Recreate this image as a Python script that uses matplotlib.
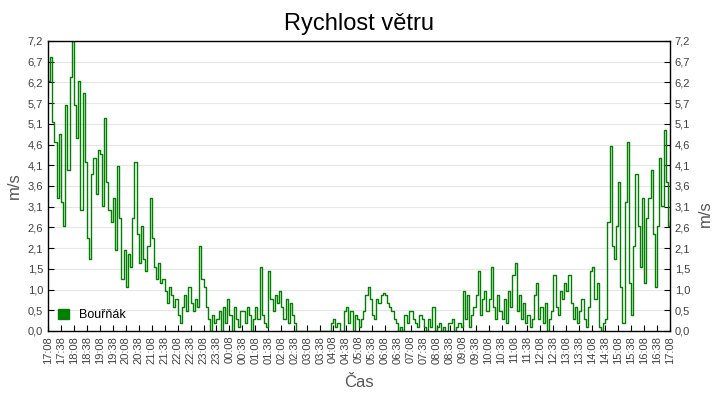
import matplotlib
matplotlib.use("Agg")
import matplotlib.pyplot as plt
import numpy as np

plt.rcParams['font.family'] = ['Liberation Sans', 'DejaVu Sans']

# rychlost větru v m/s, vzorek každých 5 minut od 17:08
vitr = [
    6.2, 6.8, 5.2, 4.7, 3.3, 4.9,
    3.2, 2.6, 5.6, 4.0, 6.3, 7.2,
    5.6, 4.8, 6.2, 3.0, 5.9, 4.2,
    2.3, 1.8, 3.9, 4.3, 3.4, 4.5,
    4.4, 3.1, 5.3, 3.7, 3.0, 2.7,
    3.3, 2.0, 4.1, 2.8, 1.3, 2.0,
    1.1, 1.9, 1.6, 2.8, 4.2, 2.4,
    1.7, 2.6, 1.8, 1.5, 2.1, 3.3,
    2.3, 1.6, 1.3, 1.7, 1.2, 1.3,
    1.0, 0.7, 1.1, 0.9, 0.6, 0.8,
    0.4, 0.2, 0.6, 0.9, 0.5, 1.1,
    0.7, 0.5, 0.8, 0.6, 2.1, 1.3,
    1.1, 0.6, 0.3, 0.0, 0.4, 0.2,
    0.3, 0.5, 0.0, 0.6, 0.2, 0.8,
    0.4, 0.0, 0.6, 0.3, 0.1, 0.5,
    0.5, 0.2, 0.6, 0.4, 0.0, 0.3,
    0.6, 0.3, 1.6, 0.4, 0.2, 0.1,
    1.5, 0.8, 0.5, 0.9, 0.7, 1.0,
    0.6, 0.3, 0.8, 0.2, 0.7, 0.4,
    0.2, 0.0, 0.0, 0.0, 0.0, 0.0,
    0.0, 0.0, 0.0, 0.0, 0.0, 0.0,
    0.0, 0.0, 0.0, 0.0, 0.0, 0.2,
    0.3, 0.1, 0.2, 0.0, 0.0, 0.5,
    0.6, 0.2, 0.5, 0.0, 0.4, 0.3,
    0.1, 0.3, 0.5, 0.9, 1.1, 0.8,
    0.4, 0.3, 0.8, 0.7, 0.9, 0.95,
    0.9, 0.7, 0.6, 0.5, 0.3, 0.2,
    0.0, 0.1, 0.0, 0.4, 0.2, 0.5,
    0.5, 0.3, 0.2, 0.1, 0.4, 0.3,
    0.1, 0.0, 0.3, 0.1, 0.6, 0.0,
    0.1, 0.2, 0.0, 0.1, 0.0, 0.2,
    0.2, 0.3, 0.0, 0.1, 0.2, 0.1,
    1.0, 0.3, 0.9, 0.1, 0.4, 0.6,
    0.9, 1.5, 0.4, 0.8, 1.0, 0.5,
    0.8, 1.6, 0.6, 0.3, 0.9, 0.5,
    0.3, 0.8, 0.2, 1.0, 0.6, 1.4,
    1.7, 0.5, 0.9, 0.3, 0.7, 0.2,
    0.4, 0.1, 0.3, 0.9, 1.2, 0.3,
    0.6, 0.2, 0.7, 0.0, 0.3, 0.5,
    1.4, 0.6, 0.4, 1.0, 0.8, 1.2,
    1.0, 1.4, 0.7, 0.3, 0.6, 0.2,
    0.5, 0.8, 0.3, 0.1, 0.6, 1.5,
    1.6, 0.8, 1.2, 0.1, 0.0, 0.2,
    0.3, 2.7, 4.6, 2.1, 1.8, 2.6,
    3.7, 1.1, 0.2, 3.2, 4.7, 1.2,
    0.4, 2.1, 3.9, 2.6, 1.6, 3.3,
    1.2, 2.8, 3.3, 4.0, 2.4, 1.1,
    2.6, 4.3, 3.1, 5.0, 3.7, 2.6,
    2.7,
]
krok_min = 5
casy = np.arange(len(vitr)) * krok_min  # minuty od 17:08

# popisky osy x po 30 minutách
start_h, start_m = 17, 8
popisky_x = [f"{((start_h * 60 + start_m + k * 30) // 60) % 24:02d}:{(start_m + k * 30) % 60:02d}"
             for k in range(49)]
y_max = 7.2

fig = plt.figure(figsize=(7.2, 4.0), dpi=100)
ax = fig.add_axes([48 / 720, 69 / 400, 622 / 720, 290 / 400])

ax.plot(casy, vitr, drawstyle='steps-post', color='#008000', lw=1.0, label='Bouřňák')

ax.set_xlim(0, 1440)
ax.set_ylim(0, y_max)

yt = np.linspace(0, y_max, 15)
ylab = [f"{v:.1f}".replace('.', ',') for v in yt]
ax.set_yticks(yt)
ax.set_yticklabels(ylab)
ax.set_xticks(np.arange(49) * 30)
ax.set_xticklabels(popisky_x, rotation=90)

ax.tick_params(axis='both', direction='in', length=4, labelsize=8, labelcolor='#404040')
ax.tick_params(axis='y', right=True, labelright=True)
ax.yaxis.grid(True, color='#e6e6e6', lw=0.8)
ax.set_axisbelow(True)
for s in ax.spines.values():
    s.set_color('black')
    s.set_linewidth(1.0)

ax.set_title('Rychlost větru', fontsize=17, pad=8)
ax.set_xlabel('Čas', fontsize=12, color='#555555', labelpad=8)
ax.set_ylabel('m/s', fontsize=12, color='#555555', labelpad=4)
fig.text(705 / 720, 186 / 400, 'm/s', rotation=90, fontsize=12, color='#555555',
         ha='center', va='center')

h = plt.Rectangle((0, 0), 1, 1, color='#008000')
ax.legend([h], ['Bouřňák'], loc='lower left', frameon=False, fontsize=9,
          handlelength=0.9, handleheight=0.9, borderaxespad=0.4)

fig.savefig('out.png', dpi=100)
